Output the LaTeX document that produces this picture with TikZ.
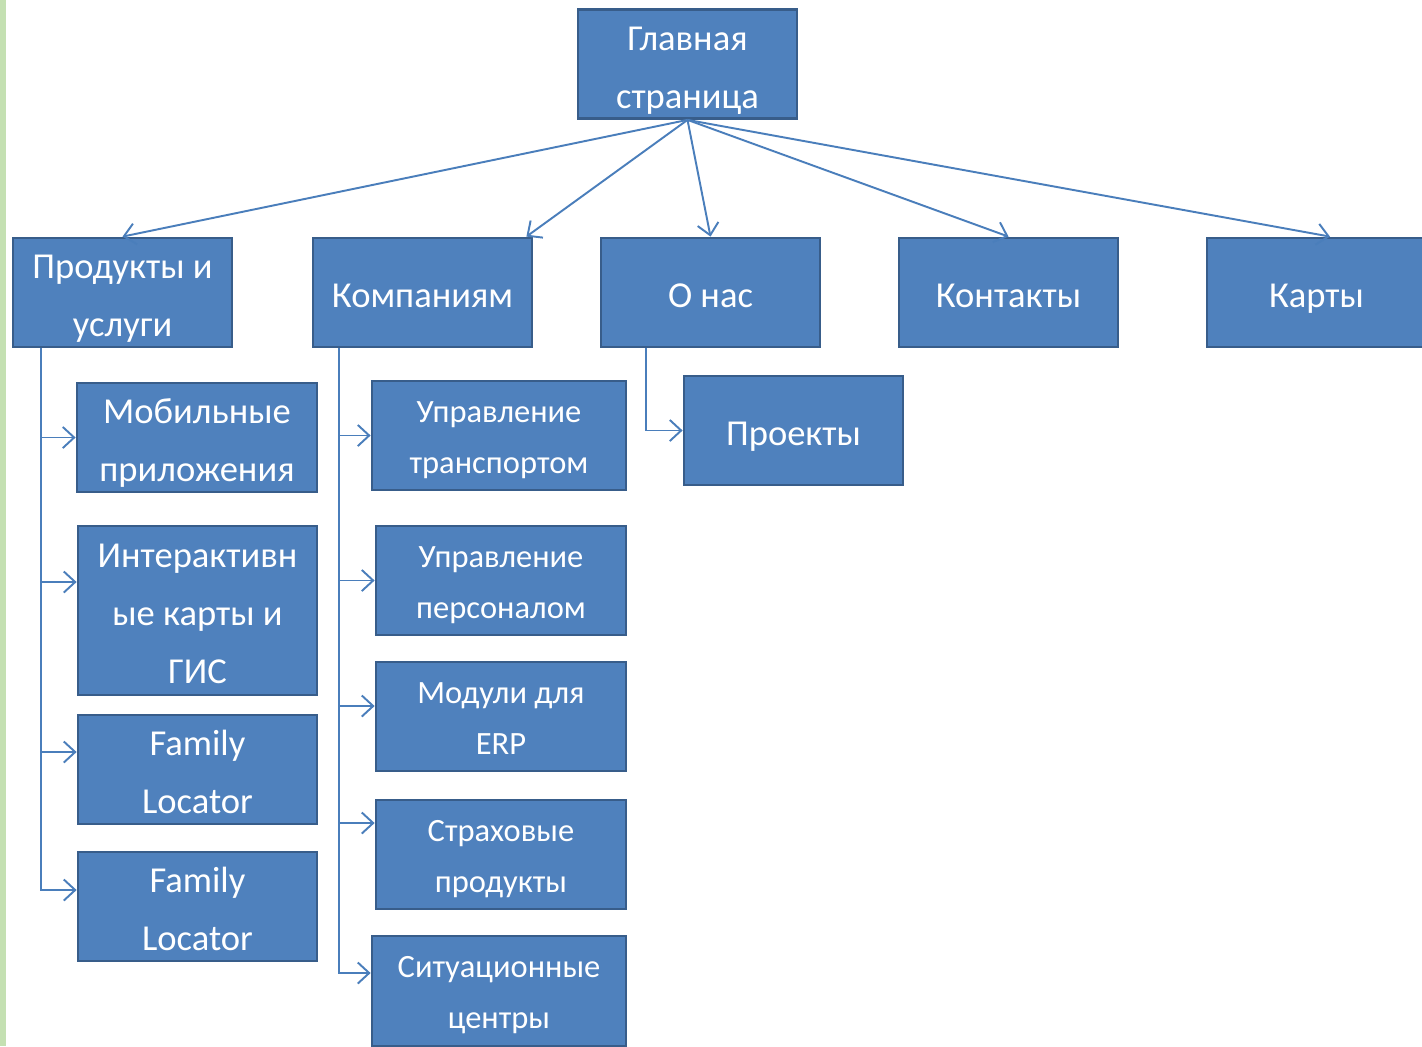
\documentclass[tikz,border=0pt]{standalone}
\usepackage{fontspec}
\setmainfont{Carlito}
\usepackage{xcolor}
\definecolor{boxfill}{HTML}{4F81BD}
\definecolor{boxedge}{HTML}{385D8A}
\definecolor{linkblue}{HTML}{4A7EBB}
\definecolor{stripgreen}{HTML}{C4E0B2}
\usetikzlibrary{arrows.meta,positioning,calc}

\begin{document}
\begin{tikzpicture}[x=0.02cm, y=-0.02cm,
  blk/.style={draw=boxedge, line width=1.6pt, fill=boxfill, text=white,
              minimum width=4.38cm, minimum height=2.18cm, inner sep=0pt,
              align=center, font=\fontsize{20.8}{33}\selectfont,
              execute at begin node={\rule{0pt}{23pt}},
              execute at end node={\rule[-5.5pt]{0pt}{5.5pt}}},
  twoline/.style={blk, execute at begin node={\rule{0pt}{56pt}}},
  threeline/.style={blk, execute at begin node={\rule{0pt}{88.5pt}}},
  sblk/.style={blk, minimum width=5cm, font=\fontsize{18.5}{29}\selectfont,
               execute at begin node={\rule{0pt}{48.6pt}}},
  arrow/.style={->, line width=1.1pt, draw=linkblue,
                >={Straight Barb[length=6.5pt,width=12pt]}},
]
\useasboundingbox (0,0) rectangle (1422,1046);
\fill[stripgreen] (0,0) rectangle (6,1046);
% top level
\node[twoline] (main) at (687.5, 64) {Главная\\страница};
\node[twoline] (prod) at (122.5, 292.5) {Продукты и\\услуги};
\node[blk] (comp) at (422.5, 292.5) {Компаниям};
\node[blk] (about) at (710.5, 292.5) {О нас};
\node[blk] (cont) at (1008.5, 292.5) {Контакты};
\node[blk] (maps) at (1316.5, 292.5) {Карты};
% products
\node[twoline, minimum width=4.8cm] (mob) at (197, 437.5) {Мобильные\\приложения};
\node[threeline, minimum width=4.78cm, minimum height=3.38cm] (inter) at (197.5, 610.5)
  {Интерактивн\\ые карты и\\ГИС};
\node[twoline, minimum width=4.78cm] (fam1) at (197.5, 769.5) {Family\\Locator};
\node[twoline, minimum width=4.78cm] (fam2) at (197.5, 906.5) {Family\\Locator};
% companies
\node[sblk, minimum width=5.08cm] (trans) at (499, 435.5) {Управление\\транспортом};
\node[sblk] (pers) at (501, 580.5) {Управление\\персоналом};
\node[sblk] (erp) at (501, 716.5) {Модули для\\ERP};
\node[sblk] (ins) at (501, 854.5) {Страховые\\продукты};
\node[sblk, minimum width=5.08cm, minimum height=2.2cm] (sit) at (499, 991)
  {Ситуационные\\центры};
% about
\node[blk] (proj) at (793.5, 430.5) {Проекты};
\draw[arrow] (main.south) -- (prod.north);
\draw[arrow] (main.south) -- ([xshift=-0.14cm]comp.north east);
\draw[arrow] (main.south) -- (about.north);
\draw[arrow] (main.south) -- (cont.north);
\draw[arrow] (main.south) -- ([xshift=0.27cm]maps.north);
\draw[arrow] ([xshift=0.58cm]prod.south west) |- (mob.west);
\draw[arrow] ([xshift=0.58cm]prod.south west) |- ([yshift=0.57cm]inter.west);
\draw[arrow] ([xshift=0.58cm]prod.south west) |- ([yshift=0.35cm]fam1.west);
\draw[arrow] ([xshift=0.58cm]prod.south west) |- ([yshift=0.33cm]fam2.west);
\draw[arrow] ([xshift=0.54cm]comp.south west) |- (trans.west);
\draw[arrow] ([xshift=0.54cm]comp.south west) |- (pers.west);
\draw[arrow] ([xshift=0.54cm]comp.south west) |- ([yshift=0.21cm]erp.west);
\draw[arrow] ([xshift=0.54cm]comp.south west) |- ([yshift=0.63cm]ins.west);
\draw[arrow] ([xshift=0.54cm]comp.south west) |- ([yshift=0.36cm]sit.west);
\draw[arrow] ([xshift=0.92cm]about.south west) |- (proj.west);
\end{tikzpicture}
\end{document}
